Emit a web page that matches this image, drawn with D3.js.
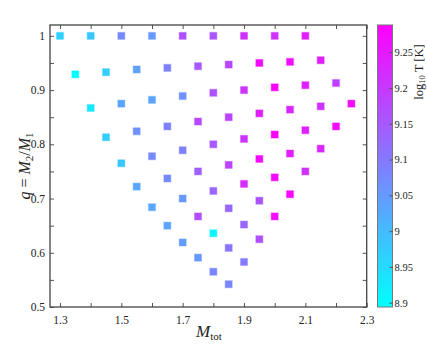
<!DOCTYPE html>
<html>
<head>
<meta charset="utf-8">
<script src="https://cdn.jsdelivr.net/npm/d3@7"></script>
<style>
  body { margin: 0; background: #fff; }
  svg text { font-family: "Liberation Serif", "DejaVu Serif", serif; fill: #222; }
</style>
</head>
<body>
<svg width="427" height="346"></svg>
<script>
// точки сетки: полная масса, отношение масс, температура
const mtot = [
  1.30, 1.35, 1.40, 1.45, 1.50, 1.55, 1.60, 1.65, 1.70, 1.75, 1.80, 1.85,
  1.40, 1.45, 1.50, 1.55, 1.60, 1.65, 1.70, 1.75, 1.80, 1.85, 1.90,
  1.50, 1.55, 1.60, 1.65, 1.70, 1.75, 1.80, 1.85, 1.90, 1.95,
  1.60, 1.65, 1.70, 1.75, 1.80, 1.85, 1.90, 1.95, 2.00,
  1.70, 1.75, 1.80, 1.85, 1.90, 1.95, 2.00, 2.05,
  1.80, 1.85, 1.90, 1.95, 2.00, 2.05, 2.10,
  1.90, 1.95, 2.00, 2.05, 2.10, 2.15,
  2.00, 2.05, 2.10, 2.15, 2.20,
  2.10, 2.15, 2.20, 2.25
];
const qRatio = [
  1.000, 0.929, 0.867, 0.813, 0.765, 0.722, 0.684, 0.650, 0.619, 0.591, 0.565, 0.542,
  1.000, 0.933, 0.875, 0.824, 0.778, 0.737, 0.700, 0.667, 0.636, 0.609, 0.583,
  1.000, 0.938, 0.882, 0.833, 0.789, 0.750, 0.714, 0.682, 0.652, 0.625,
  1.000, 0.941, 0.889, 0.842, 0.800, 0.762, 0.727, 0.696, 0.667,
  1.000, 0.944, 0.895, 0.850, 0.810, 0.773, 0.739, 0.708,
  1.000, 0.947, 0.900, 0.857, 0.818, 0.783, 0.750,
  1.000, 0.950, 0.905, 0.864, 0.826, 0.792,
  1.000, 0.952, 0.909, 0.870, 0.833,
  1.000, 0.955, 0.913, 0.875
];
const logT = [
  8.965, 8.895, 8.93, 8.97, 8.98, 9.03, 9.03, 9.035, 9.045, 9.055, 9.08, 9.08,
  8.98, 8.97, 9.035, 9.065, 9.075, 9.075, 9.055, 9.17, 8.91, 9.11, 9.10,
  9.075, 9.04, 9.035, 9.09, 9.09, 9.14, 9.13, 9.13, 9.13, 9.165,
  9.05, 9.09, 9.065, 9.175, 9.15, 9.185, 9.22, 9.16, 9.27,
  9.165, 9.15, 9.16, 9.185, 9.21, 9.27, 9.27, 9.285,
  9.16, 9.18, 9.21, 9.24, 9.285, 9.24, 9.21,
  9.21, 9.27, 9.285, 9.23, 9.24, 9.23,
  9.21, 9.27, 9.24, 9.21, 9.27,
  9.24, 9.24, 9.19, 9.27
];

const xMajor = [1.3, 1.5, 1.7, 1.9, 2.1, 2.3];
const xMinor = [1.3, 1.4, 1.5, 1.6, 1.7, 1.8, 1.9, 2.0, 2.1, 2.2, 2.3];
const yMajor = [0.5, 0.6, 0.7, 0.8, 0.9, 1];
const yMinor = [0.5, 0.55, 0.6, 0.65, 0.7, 0.75, 0.8, 0.85, 0.9, 0.95, 1];
const cTicks = [8.9, 8.95, 9, 9.05, 9.1, 9.15, 9.2, 9.25];

const svg = d3.select("svg");
const pLeft = 50, pRight = 366.7, pTop = 25, pBottom = 307;

const x = d3.scaleLinear().domain([1.2674, 2.3]).range([pLeft, pRight]);
const y = d3.scaleLinear().domain([0.5, 1.02]).range([pBottom, pTop]);
const cDomain = [8.894, 9.288];
const color = d3.scaleSequential(d3.interpolateRgb("#00ffff", "#ff00ff")).domain(cDomain);

const data = mtot.map((m, i) => ({ m: m, q: qRatio[i], t: logT[i] }));

// оси
function styleAxis(g) {
  g.selectAll("path").remove();
  g.selectAll("line").attr("stroke", "#555").attr("stroke-width", 1);
  g.selectAll("text").attr("font-size", 11.5).attr("fill", "#222");
}

svg.append("g").attr("transform", `translate(0,${pBottom})`)
  .call(d3.axisBottom(x).tickValues(xMinor).tickSize(-4).tickFormat(""))
  .call(styleAxis);
svg.append("g").attr("transform", `translate(0,${pBottom})`)
  .call(d3.axisBottom(x).tickValues(xMajor).tickSize(0).tickPadding(9).tickFormat(d3.format("")))
  .call(styleAxis);
svg.append("g").attr("transform", `translate(0,${pTop})`)
  .call(d3.axisTop(x).tickValues(xMinor).tickSize(-4).tickFormat(""))
  .call(styleAxis);

svg.append("g").attr("transform", `translate(${pLeft},0)`)
  .call(d3.axisLeft(y).tickValues(yMinor).tickSize(-4).tickFormat(""))
  .call(styleAxis);
svg.append("g").attr("transform", `translate(${pLeft},0)`)
  .call(d3.axisLeft(y).tickValues(yMajor).tickSize(0).tickPadding(5).tickFormat(d3.format("")))
  .call(styleAxis);
svg.append("g").attr("transform", `translate(${pRight},0)`)
  .call(d3.axisRight(y).tickValues(yMinor).tickSize(-4).tickFormat(""))
  .call(styleAxis);

svg.append("rect")
  .attr("x", pLeft).attr("y", pTop)
  .attr("width", pRight - pLeft).attr("height", pBottom - pTop)
  .attr("fill", "none").attr("stroke", "#444").attr("stroke-width", 1.3);

// точки
const s = 7;
svg.append("g").selectAll("rect").data(data).join("rect")
  .attr("x", d => x(d.m) - s / 2)
  .attr("y", d => y(d.q) - s / 2)
  .attr("width", s).attr("height", s)
  .attr("fill", d => color(d.t))
  .attr("stroke", d => color(d.t))
  .attr("stroke-opacity", 0.35)
  .attr("stroke-width", 1.2);

// подписи осей
svg.append("text")
  .attr("x", 209).attr("y", 337)
  .attr("text-anchor", "middle").attr("font-size", 17)
  .html('<tspan font-style="italic">M</tspan><tspan font-size="11" dy="3">tot</tspan>');

svg.append("text")
  .attr("transform", "translate(30,166) rotate(-90)")
  .attr("text-anchor", "middle").attr("font-size", 16)
  .html('<tspan font-style="italic">q</tspan> = <tspan font-style="italic">M</tspan><tspan font-size="11" dy="3">2</tspan><tspan dy="-3">/</tspan><tspan font-style="italic">M</tspan><tspan font-size="11" dy="3">1</tspan>');

// цветовая шкала
const cbX = 377.5, cbW = 15;
const cy = d3.scaleLinear().domain(cDomain).range([pBottom, pTop]);
const defs = svg.append("defs");
const grad = defs.append("linearGradient").attr("id", "cb")
  .attr("x1", 0).attr("y1", 1).attr("x2", 0).attr("y2", 0);
d3.range(0, 1.01, 0.1).forEach(t => {
  grad.append("stop").attr("offset", t)
    .attr("stop-color", color(cDomain[0] + t * (cDomain[1] - cDomain[0])));
});
svg.append("rect")
  .attr("x", cbX).attr("y", pTop).attr("width", cbW).attr("height", pBottom - pTop)
  .attr("fill", "url(#cb)").attr("stroke", "#777").attr("stroke-width", 1);

svg.append("g").attr("transform", `translate(${cbX + cbW},0)`)
  .call(d3.axisRight(cy).tickValues(cTicks).tickSize(-3).tickPadding(3).tickFormat(d3.format("")))
  .call(styleAxis)
  .call(g => g.selectAll("text").attr("font-size", 10.5).attr("x", 2));

svg.append("text")
  .attr("transform", "translate(422.5,72) rotate(-90)")
  .attr("text-anchor", "middle").attr("font-size", 12.5)
  .html('log<tspan font-size="8.5" dy="2.5">10</tspan><tspan dy="-2.5"> T [K]</tspan>');
</script>
</body>
</html>
